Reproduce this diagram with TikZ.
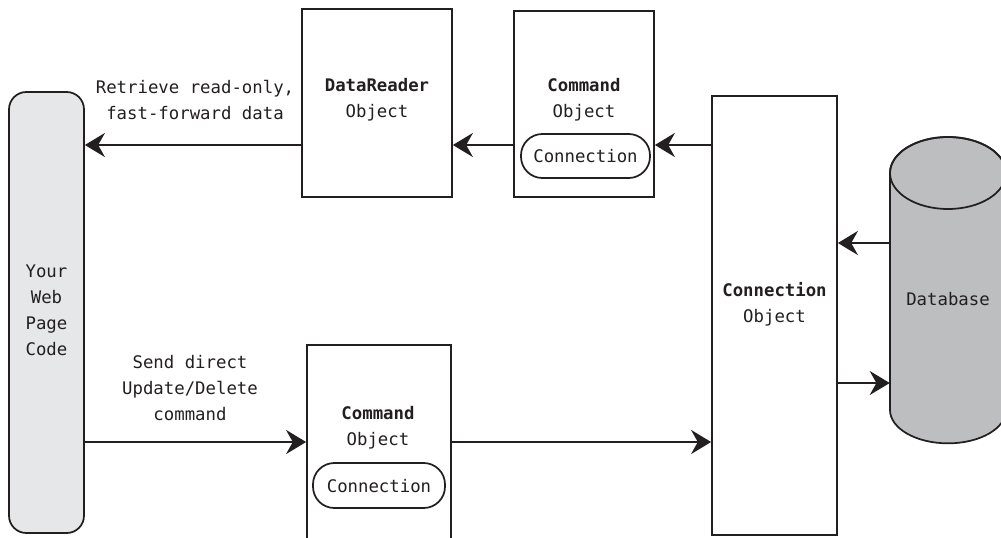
\documentclass[tikz,border=0pt]{standalone}
\usepackage{fontspec}
\setmonofont{DejaVu Sans Mono}
\usetikzlibrary{arrows.meta}
\definecolor{ink}{HTML}{231F20}
\definecolor{webgray}{HTML}{E6E7E8}
\definecolor{dbgray}{HTML}{BCBEC0}
\tikzset{
  box/.style={draw=ink, line width=1.3pt, fill=white, inner sep=0pt, minimum width=#1},
  pill/.style={draw=ink, line width=1.3pt, fill=white, inner sep=0pt, rounded corners=16pt},
  txt/.style={text=ink, align=center, inner sep=0pt, font=\ttfamily\fontsize{13pt}{19.5pt}\selectfont},
  arr/.style={draw=ink, line width=1.7pt, -{Stealth[length=15pt,width=18pt,inset=5pt]}}
}
\begin{document}
\begin{tikzpicture}[x=0.75pt,y=-0.75pt]
\useasboundingbox (0,0) rectangle (1001,537);
% Web page code
\node[draw=ink, line width=1.3pt, fill=webgray, rounded corners=13pt, inner sep=0pt,
      minimum width=56.25pt, minimum height=330.75pt] (web) at (46.5,312.5) {};
\node[txt] (webtxt) at (46.5,310) {Your\\Web\\Page\\Code};
% DataReader
\node[box=112.5pt, minimum height=141pt] (dr) at (377,103) {};
\node[txt] (drtxt) at (377,100) {\textbf{DataReader}\\Object};
% Command (top)
\node[box=105pt, minimum height=139.5pt] (cmd1) at (584,104) {};
\node[txt] (cmd1txt) at (584,100) {\textbf{Command}\\Object};
\node[pill, minimum width=96.75pt, minimum height=33pt] (pill1) at (585.5,156) {};
\node[txt] (pill1txt) at (585.5,156.5) {Connection};
% Connection object
\node[box=93.75pt, minimum height=329.25pt] (conn) at (774.5,315.5) {};
\node[txt] (conntxt) at (774.5,304) {\textbf{Connection}\\Object};
% Command (bottom)
\node[box=108pt, minimum height=150pt] (cmd2) at (379,445) {};
\node[txt] (cmd2txt) at (378,428) {\textbf{Command}\\Object};
\node[pill, minimum width=99pt, minimum height=33.75pt] (pill2) at (379,485.5) {};
\node[txt] (pill2txt) at (379,486) {Connection};
% Database cylinder
\filldraw[draw=ink, fill=dbgray, line width=1.3pt]
  (890,173) -- (890,410) arc[start angle=180, end angle=360, x radius=43.5pt, y radius=25pt]
  -- (1006,173) arc[start angle=0, end angle=180, x radius=43.5pt, y radius=27pt] -- cycle;
\draw[draw=ink, line width=1.3pt] (948,173) ellipse[x radius=43.5pt, y radius=27pt];
\node[inner sep=0pt, minimum width=87pt, minimum height=177.75pt] (db) at (948,291.5) {};
\node[txt] (dbtxt) at (948,299) {Database};
% labels
\node[txt] (lbl1) at (195,100) {Retrieve read-only,\\fast-forward data};
\node[txt] (lbl2) at (190,388) {Send direct\\Update/Delete\\command};
% rows
\coordinate (rowA) at (0,145);
\coordinate (rowB) at (0,442);
\coordinate (rowC) at (0,243);
\coordinate (rowD) at (0,383);
% connectors
\draw[arr] (dr.west |- rowA) -- (web.east |- rowA);
\draw[arr] (cmd1.west |- rowA) -- (dr.east |- rowA);
\draw[arr] (conn.west |- rowA) -- (cmd1.east |- rowA);
\draw[arr] (db.west |- rowC) -- (conn.east |- rowC);
\draw[arr] (conn.east |- rowD) -- (db.west |- rowD);
\draw[arr] (web.east |- rowB) -- (cmd2.west |- rowB);
\draw[arr] (cmd2.east |- rowB) -- (conn.west |- rowB);
\end{tikzpicture}
\end{document}
